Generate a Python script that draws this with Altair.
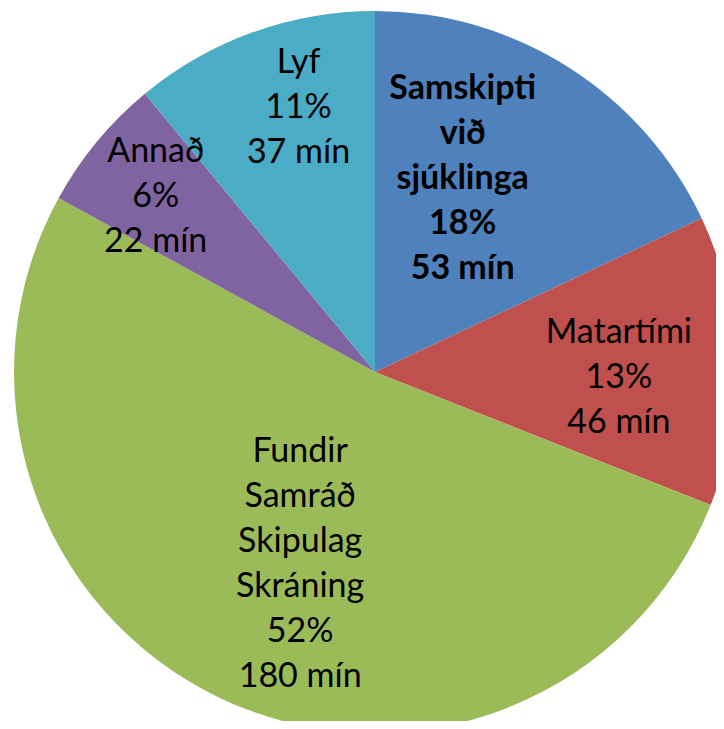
import altair as alt
import pandas as pd

# ---- data ----
categories = ["Samskipti við sjúklinga", "Matartími", "Fundir Samráð Skipulag Skráning", "Annað", "Lyf"]
label_lines = [["Samskipti", "við", "sjúklinga"], ["Matartími"], ["Fundir", "Samráð", "Skipulag", "Skráning"], ["Annað"], ["Lyf"]]
percent = [18, 13, 52, 6, 11]
minutes = [53, 46, 180, 22, 37]
colors = ["#4F81BD", "#C0504D", "#9BBB59", "#8064A2", "#4BACC6"]

df = pd.DataFrame({
    "idx": list(range(len(categories))),
    "category": categories,
    "percent": percent,
    "label": ["\n".join(lines + [f"{p}%", f"{m} mín"]) for lines, p, m in zip(label_lines, percent, minutes)],
})

FONT = "Lato"
CX, CY, R = 367, 364, 361
LH = 45

base = alt.Chart(df).transform_window(
    cum="sum(percent)", sort=[alt.SortField("idx")], frame=[None, 0]
).transform_calculate(
    start="datum.cum - datum.percent",
    mid="datum.cum - datum.percent / 2",
)

theta_scale = alt.Scale(domain=[0, 100], range=[0, 6.283185307179586])

pie = base.mark_arc(outerRadius=R, x=CX, y=CY).encode(
    theta=alt.Theta("start:Q", scale=theta_scale),
    theta2="cum:Q",
    color=alt.Color("category:N", scale=alt.Scale(domain=categories, range=colors), legend=None),
)

# label placement (radius from centre, pixel nudges, weight) per slice
placement = {
    0: dict(r=214, dx=-27, dy=-12, weight="bold"),
    1: dict(r=244, dx=0, dy=14, weight="normal"),
    2: dict(r=204, dx=12, dy=8, weight="normal"),
    3: dict(r=282, dx=-2, dy=5, weight="normal"),
    4: dict(r=276, dx=17, dy=-4, weight="normal"),
}

layers = [pie]
for i, p in placement.items():
    nlines = len(label_lines[i]) + 2
    layers.append(
        base.transform_filter(alt.datum.idx == i).mark_text(
            x=CX, y=CY, font=FONT, fontSize=34, fontWeight=p["weight"], color="black",
            align="center", baseline="middle", lineBreak="\n", lineHeight=LH,
            dx=p["dx"], dy=p["dy"] - (nlines - 1) * LH / 2,
        ).encode(
            theta=alt.Theta("mid:Q", scale=theta_scale),
            radius=alt.value(p["r"]),
            text="label:N",
        )
    )

chart = alt.layer(*layers).properties(
    width=708, height=713, autosize="none", padding=0, background="white"
).configure_view(stroke=None)

chart.save("out.html", embed_options={"renderer": "svg", "actions": False})
